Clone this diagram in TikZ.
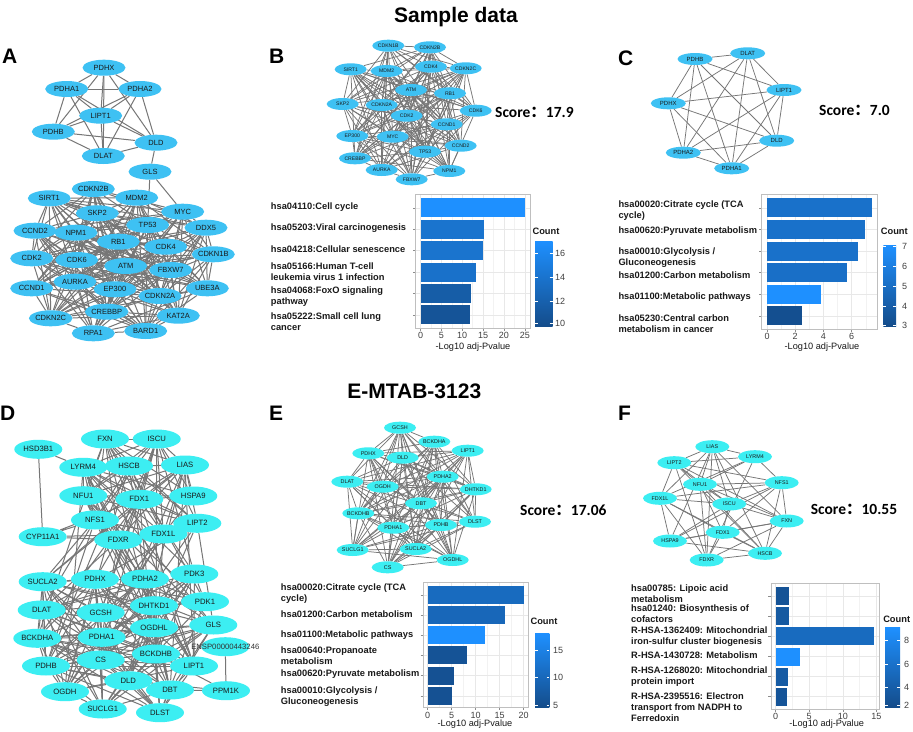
\documentclass[tikz,border=0pt]{standalone}
\usepackage{fontspec}
\setmainfont{Liberation Sans}
\newfontfamily\carl{Carlito}
\newfontfamily\cjk{Noto Sans CJK SC}
\usetikzlibrary{shapes.geometric}
\pgfdeclarelayer{back}
\pgfdeclarelayer{edges}
\pgfsetlayers{back,edges,main}
\definecolor{nodeA}{RGB}{62,193,243}
\definecolor{nodeD}{RGB}{60,238,242}
\definecolor{edgec}{RGB}{118,118,118}
\definecolor{cHi}{RGB}{30,144,255}
\definecolor{cLo}{RGB}{20,76,138}
\definecolor{txt}{RGB}{25,25,25}
% #1 style, #2 list macro, #3 percent, #4 salt
\newcommand\meshnet[4]{\foreach \p [count=\ci] in #2 {\foreach \q [count=\cj] in #2 {\ifnum\cj>\ci\relax\pgfmathtruncatemacro\rr{mod(\ci*37+\cj*61+\ci*\cj*17+#4,100)}\ifnum\rr<#3\relax\draw[#1] (\p) -- (\q);\fi\fi}}}
\newcommand\crossnet[5]{\foreach \p [count=\ci] in #2 {\foreach \q [count=\cj] in #3 {\pgfmathtruncatemacro\rr{mod(\ci*41+\cj*29+\ci*\cj*13+#5,100)}\ifnum\rr<#4\relax\draw[#1] (\p) -- (\q);\fi}}}
\newcommand\hbr[6]{\fill[cHi!#6!cLo] (#1,{#3-#4}) rectangle ({#1+#5*#2},{#3+#4});}
\tikzset{
 nbase/.style={ellipse,inner sep=0pt,text=txt},
 an/.style={nbase,fill=nodeA,minimum width=43,minimum height=16,font=\fontsize{7.5}{8}\selectfont},
 bn/.style={nbase,fill=nodeA,minimum width=32,minimum height=12,font=\fontsize{5.1}{6}\selectfont},
 cn/.style={nbase,fill=nodeA,minimum width=35,minimum height=12,font=\fontsize{6}{7}\selectfont},
 dn/.style={nbase,fill=nodeD,minimum width=48,minimum height=19,font=\fontsize{7.7}{8}\selectfont},
 en/.style={nbase,fill=nodeD,minimum width=32,minimum height=12,font=\fontsize{5.4}{6}\selectfont},
 fn/.style={nbase,fill=nodeD,minimum width=34,minimum height=13,font=\fontsize{5.4}{6}\selectfont},
 edgeL/.style={draw=edgec,line width=1pt},
 edgeS/.style={draw=edgec,line width=0.75pt},
 lab/.style={anchor=west,align=left,inner sep=0pt,font=\fontsize{9.3}{11}\selectfont\bfseries,text=txt},
 tickl/.style={inner sep=0pt,font=\fontsize{9}{10}\selectfont,text=black!75},
 axt/.style={inner sep=0pt,font=\fontsize{9.2}{10}\selectfont,text=txt},
 cnt/.style={inner sep=0pt,font=\fontsize{9.3}{10}\selectfont\bfseries,text=txt},
 pframe/.style={draw=black!25,line width=0.6pt},
 gmaj/.style={draw=black!9,line width=0.5pt},
 gmin/.style={draw=black!5,line width=0.3pt},
 tk/.style={draw=black!45,line width=0.5pt},
 letter/.style={anchor=base west,inner sep=0pt,font=\fontsize{21}{21}\selectfont\bfseries},
 ttl/.style={anchor=base,inner sep=0pt,font=\fontsize{21}{21}\selectfont\bfseries},
 scoretxt/.style={anchor=base west,inner sep=0pt,font=\carl\bfseries\fontsize{15.5}{18}\selectfont},
}
\begin{document}
\begin{tikzpicture}[x=1pt,y=-1pt]
\begin{pgfonlayer}{back}\fill[white] (0,0) rectangle (913,731);\end{pgfonlayer}
\useasboundingbox (0,0) rectangle (913,731);
% titles and letters
\node[ttl] (t1) at (456,22) {Sample data};
\node[ttl] (t2) at (414.3,398) {E-MTAB-3123};
\node[letter] (LA) at (2,63) {A};
\node[letter] (LB) at (269,63) {B};
\node[letter] (LC) at (618,65) {C};
\node[letter] (LD) at (0,420) {D};
\node[letter] (LE) at (269,420) {E};
\node[letter] (LF) at (618,420) {F};
% ---------- panel A nodes
\node[an] (aPDHX) at (104,67.7) {PDHX};
\node[an] (aPDHA1) at (66.7,89) {PDHA1};
\node[an] (aPDHA2) at (140,89) {PDHA2};
\node[an] (aLIPT1) at (100.7,115.7) {LIPT1};
\node[an] (aPDHB) at (53.3,131.7) {PDHB};
\node[an] (aDLD) at (156,142.7) {DLD};
\node[an] (aDLAT) at (103.3,156) {DLAT};
\node[an] (aGLS) at (150,171.7) {GLS};
\node[an] (aCDKN2B) at (93.3,189) {CDKN2B};
\node[an] (aSIRT1) at (49.3,198.3) {SIRT1};
\node[an] (aMDM2) at (136.7,197.7) {MDM2};
\node[an] (aSKP2) at (97.3,213.3) {SKP2};
\node[an] (aMYC) at (182.7,211.7) {MYC};
\node[an] (aCCND2) at (35,230.7) {CCND2};
\node[an] (aNPM1) at (76,232.7) {NPM1};
\node[an] (aTP53) at (147.7,225) {TP53};
\node[an] (aDDX5) at (206,227.7) {DDX5};
\node[an] (aRB1) at (118.3,241.7) {RB1};
\node[an] (aCDK4) at (165.7,246.7) {CDK4};
\node[an] (aCDKN1B) at (213.3,254.3) {CDKN1B};
\node[an] (aCDK2) at (31.7,258.3) {CDK2};
\node[an] (aCDK6) at (76.7,260) {CDK6};
\node[an] (aATM) at (125.7,266) {ATM};
\node[an] (aFBXW7) at (170.7,270) {FBXW7};
\node[an] (aCCND1) at (31.7,288.3) {CCND1};
\node[an] (aAURKA) at (75,281.7) {AURKA};
\node[an] (aEP300) at (115,289.3) {EP300};
\node[an] (aCDKN2A) at (160,296) {CDKN2A};
\node[an] (aUBE3A) at (207.3,288.3) {UBE3A};
\node[an] (aCREBBP) at (106.7,311.7) {CREBBP};
\node[an] (aKAT2A) at (178.3,315.7) {KAT2A};
\node[an] (aCDKN2C) at (50.7,318.3) {CDKN2C};
\node[an] (aRPA1) at (93.3,333.3) {RPA1};
\node[an] (aBARD1) at (145.7,331) {BARD1};
% ---------- panel B nodes
\node[bn] (bCDKN1B) at (388.3,45.7) {CDKN1B};
\node[bn] (bCDKN2B) at (430,47.3) {CDKN2B};
\node[bn] (bSIRT1) at (350.7,69.3) {SIRT1};
\node[bn] (bMDM2) at (386.7,71) {MDM2};
\node[bn] (bCDK4) at (431,66.7) {CDK4};
\node[bn] (bCDKN2C) at (465.7,68.3) {CDKN2C};
\node[bn] (bATM) at (411,90) {ATM};
\node[bn] (bRB1) at (450,93.3) {RB1};
\node[bn] (bSKP2) at (342.7,104) {SKP2};
\node[bn] (bCDKN2A) at (381.7,105) {CDKN2A};
\node[bn] (bCDK6) at (475.7,110.7) {CDK6};
\node[bn] (bCDK2) at (406.7,115.7) {CDK2};
\node[bn] (bCCND1) at (446.7,124.3) {CCND1};
\node[bn] (bEP300) at (352.3,136) {EP300};
\node[bn] (bMYC) at (392.7,136.7) {MYC};
\node[bn] (bCCND2) at (460.7,145.7) {CCND2};
\node[bn] (bTP53) at (425,151.7) {TP53};
\node[bn] (bCREBBP) at (355,158.3) {CREBBP};
\node[bn] (bAURKA) at (381.7,170) {AURKA};
\node[bn] (bNPM1) at (449.3,171) {NPM1};
\node[bn] (bFBXW7) at (411.7,179.3) {FBXW7};
\node[scoretxt] (sB) at (495,117) {Score{\cjk ：}17.9};
% ---------- panel C nodes
\node[cn] (cPDHB) at (695,59) {PDHB};
\node[cn] (cDLAT) at (747.7,53.3) {DLAT};
\node[cn] (cLIPT1) at (784,90) {LIPT1};
\node[cn] (cPDHX) at (668.3,103.3) {PDHX};
\node[cn] (cDLD) at (776.7,140.7) {DLD};
\node[cn] (cPDHA2) at (683.3,152.7) {PDHA2};
\node[cn] (cPDHA1) at (731.7,168.3) {PDHA1};
\node[scoretxt] (sC) at (819,115) {Score{\cjk ：}7.0};
% ---------- panel D nodes
\node[dn] (dFXN) at (105,439) {FXN};
\node[dn] (dISCU) at (156.7,439) {ISCU};
\node[dn] (dHSD3B1) at (38.3,449.3) {HSD3B1};
\node[dn] (dLYRM4) at (83.3,467.3) {LYRM4};
\node[dn] (dHSCB) at (129,466) {HSCB};
\node[dn] (dLIAS) at (185,465) {LIAS};
\node[dn] (dNFU1) at (83.3,495.7) {NFU1};
\node[dn] (dFDX1) at (139.3,499.3) {FDX1};
\node[dn] (dHSPA9) at (193.3,496) {HSPA9};
\node[dn] (dNFS1) at (95,520) {NFS1};
\node[dn] (dLIPT2) at (197.3,523.3) {LIPT2};
\node[dn] (dCYP11A1) at (42.7,536.7) {CYP11A1};
\node[dn] (dFDXR) at (118.3,540) {FDXR};
\node[dn] (dFDX1L) at (163.3,534) {FDX1L};
\node[dn] (dSUCLA2) at (42.7,581.7) {SUCLA2};
\node[dn] (dPDHX) at (95,579.3) {PDHX};
\node[dn] (dPDHA2) at (145,579) {PDHA2};
\node[dn] (dPDK3) at (194.3,574) {PDK3};
\node[dn] (dDLAT) at (41.7,610) {DLAT};
\node[dn] (dGCSH) at (100.7,612.7) {GCSH};
\node[dn] (dDHTKD1) at (154,605.7) {DHTKD1};
\node[dn] (dPDK1) at (205,601.7) {PDK1};
\node[dn] (dOGDHL) at (154,627.7) {OGDHL};
\node[dn] (dGLS) at (213.3,625) {GLS};
\node[dn] (dBCKDHA) at (37.3,638.3) {BCKDHA};
\node[dn] (dPDHA1) at (101.7,637.3) {PDHA1};
\node[dn] (dENSP) at (225.3,646.7) {\makebox[0pt]{\color{black!80}ENSP00000443246}};
\node[dn] (dBCKDHB) at (156,654) {BCKDHB};
\node[dn] (dPDHB) at (46,666) {PDHB};
\node[dn] (dCS) at (100.7,660) {CS};
\node[dn] (dLIPT1) at (194,666) {LIPT1};
\node[dn] (dDLD) at (128.3,680.7) {DLD};
\node[dn] (dDBT) at (170,690) {DBT};
\node[dn] (dPPM1K) at (226,690.7) {PPM1K};
\node[dn] (dOGDH) at (65,691.7) {OGDH};
\node[dn] (dSUCLG1) at (102.7,709) {SUCLG1};
\node[dn] (dDLST) at (160,712.7) {DLST};
% ---------- panel E nodes
\node[en] (eGCSH) at (400,427.7) {GCSH};
\node[en] (eBCKDHA) at (434.3,441.7) {BCKDHA};
\node[en] (ePDHX) at (368.3,453.3) {PDHX};
\node[en] (eLIPT1) at (467.7,450.7) {LIPT1};
\node[en] (eDLD) at (402.7,457.7) {DLD};
\node[en] (eDLAT) at (347.3,481.7) {DLAT};
\node[en] (ePDHA2) at (442.7,476.7) {PDHA2};
\node[en] (eOGDH) at (382.7,486.7) {OGDH};
\node[en] (eDHTKD1) at (475.7,489.3) {DHTKD1};
\node[en] (eDBT) at (421,503.3) {DBT};
\node[en] (eBCKDHB) at (358.3,513.3) {BCKDHB};
\node[en] (eDLST) at (475,521.7) {DLST};
\node[en] (ePDHA1) at (393.3,527.7) {PDHA1};
\node[en] (ePDHB) at (441,525) {PDHB};
\node[en] (eSUCLG1) at (352.7,550) {SUCLG1};
\node[en] (eSUCLA2) at (415.7,549) {SUCLA2};
\node[en] (eOGDHL) at (452.7,560) {OGDHL};
\node[en] (eCS) at (387.7,567.3) {CS};
\node[scoretxt] (sE) at (520,515) {Score{\cjk ：}17.06};
% ---------- panel F nodes
\node[fn] (fLIAS) at (712.3,446.7) {LIAS};
\node[fn] (fLYRM4) at (755,456.7) {LYRM4};
\node[fn] (fLIPT2) at (674.3,462.7) {LIPT2};
\node[fn] (fNFU1) at (700,484.3) {NFU1};
\node[fn] (fNFS1) at (781.7,482.7) {NFS1};
\node[fn] (fFDX1L) at (660,498.3) {FDX1L};
\node[fn] (fISCU) at (729.3,504) {ISCU};
\node[fn] (fFXN) at (786.7,521) {FXN};
\node[fn] (fFDX1) at (722.7,532.3) {FDX1};
\node[fn] (fHSPA9) at (670,541) {HSPA9};
\node[fn] (fHSCB) at (765,553.3) {HSCB};
\node[fn] (fFDXR) at (706.7,560) {FDXR};
\node[scoretxt] (sF) at (810.7,514) {Score{\cjk ：}10.55};
% ---------- edges
\begin{pgfonlayer}{edges}
\def\lAt{aPDHX,aPDHA1,aPDHA2,aLIPT1,aPDHB,aDLD,aDLAT}
\meshnet{edgeL}{\lAt}{101}{0}
\draw[edgeL] (aDLD) -- (aGLS) (aGLS) -- (aMYC) (aGLS) -- (aTP53);
\def\lAb{aCDKN2B,aSIRT1,aMDM2,aSKP2,aMYC,aCCND2,aNPM1,aTP53,aDDX5,aRB1,aCDK4,aCDKN1B,aCDK2,aCDK6,aATM,aFBXW7,aCCND1,aAURKA,aEP300,aCDKN2A,aUBE3A,aCREBBP,aKAT2A,aCDKN2C,aRPA1,aBARD1}
\meshnet{edgeL}{\lAb}{66}{3}
\def\lB{bCDKN1B,bCDKN2B,bSIRT1,bMDM2,bCDK4,bCDKN2C,bATM,bRB1,bSKP2,bCDKN2A,bCDK6,bCDK2,bCCND1,bEP300,bMYC,bCCND2,bTP53,bCREBBP,bAURKA,bNPM1,bFBXW7}
\meshnet{edgeS}{\lB}{82}{11}
\def\lC{cPDHB,cDLAT,cLIPT1,cPDHX,cDLD,cPDHA2,cPDHA1}
\meshnet{edgeS}{\lC}{101}{0}
\def\lDt{dFXN,dISCU,dLYRM4,dHSCB,dLIAS,dNFU1,dFDX1,dHSPA9,dNFS1,dLIPT2,dFDXR,dFDX1L}
\def\lDb{dSUCLA2,dPDHX,dPDHA2,dPDK3,dDLAT,dGCSH,dDHTKD1,dPDK1,dOGDHL,dGLS,dBCKDHA,dPDHA1,dBCKDHB,dPDHB,dCS,dLIPT1,dDLD,dDBT,dOGDH,dSUCLG1,dDLST}
\meshnet{edgeL}{\lDt}{80}{17}
\meshnet{edgeL}{\lDb}{66}{29}
\crossnet{edgeL}{\lDt}{\lDb}{22}{5}
\draw[edgeL] (dHSD3B1) -- (dLYRM4) (dHSD3B1) -- (dCYP11A1) (dCYP11A1) -- (dNFS1) (dCYP11A1) -- (dFDXR) (dCYP11A1) -- (dFDX1L) (dCYP11A1) -- (dFDX1) (dENSP) -- (dPPM1K) (dPPM1K) -- (dDBT) (dPPM1K) -- (dBCKDHB) (dPPM1K) -- (dDLD);
\def\lE{eGCSH,eBCKDHA,ePDHX,eLIPT1,eDLD,eDLAT,ePDHA2,eOGDH,eDHTKD1,eDBT,eBCKDHB,eDLST,ePDHA1,ePDHB,eSUCLG1,eSUCLA2,eOGDHL,eCS}
\meshnet{edgeS}{\lE}{85}{43}
\def\lF{fLIAS,fLYRM4,fLIPT2,fNFU1,fNFS1,fFDX1L,fISCU,fFXN,fFDX1,fHSPA9,fHSCB,fFDXR}
\meshnet{edgeS}{\lF}{75}{57}
\end{pgfonlayer}
% ========== chart B
\foreach \v in {2.5,7.5,...,22.5} \draw[gmin] ({420.5+\v*4.17},194.3) -- ({420.5+\v*4.17},328.3);
\foreach \v in {0,5,...,25} {\draw[gmaj] ({420.5+\v*4.17},194.3) -- ({420.5+\v*4.17},328.3);
 \draw[tk] ({420.5+\v*4.17},328.3) -- ({420.5+\v*4.17},331);
 \node[tickl] (xB\v) at ({420.5+\v*4.17},335.7) {\v};}
\foreach \k in {0,...,5} {\draw[gmaj] (415.7,{207.8+\k*21.4}) -- (530,{207.8+\k*21.4}); \draw[tk] (413,{207.8+\k*21.4}) -- (415.7,{207.8+\k*21.4});}
\hbr{420.5}{4.17}{207.8}{9.5}{25}{100}
\hbr{420.5}{4.17}{229.2}{9.5}{15.3}{58}
\hbr{420.5}{4.17}{250.6}{9.5}{15}{58}
\hbr{420.5}{4.17}{272}{9.5}{13.2}{55}
\hbr{420.5}{4.17}{293.4}{9.5}{12.2}{25}
\hbr{420.5}{4.17}{314.8}{9.5}{11.9}{12}
\draw[pframe] (415.7,194.3) rectangle (530,328.3);
\node[axt] (axB) at (473,347) {-Log10 adj-Pvalue};
\node[lab] (lB1) at (270.7,206.7) {hsa04110:Cell cycle};
\node[lab] (lB2) at (270.7,228.3) {hsa05203:Viral carcinogenesis};
\node[lab] (lB3) at (270.7,249.3) {hsa04218:Cellular senescence};
\node[lab] (lB4) at (270.7,272) {hsa05166:Human T-cell\\leukemia virus 1 infection};
\node[lab] (lB5) at (270.7,297) {hsa04068:FoxO signaling\\pathway};
\node[lab] (lB6) at (270.7,321.2) {hsa05222:Small cell lung\\cancer};
\node[cnt] (cntB) at (546,231.7) {Count};
\shade[top color=cHi,bottom color=cLo] (535,241) rectangle (552.7,326.7);
\foreach \t/\y in {16/253.3,14/277.7,12/301.7,10/323.3} {\draw[white,line width=0.6pt] (535,\y) -- (538,\y) (549.7,\y) -- (552.7,\y); \node[tickl,anchor=west] (kB\t) at (555,\y) {\t};}
% ========== chart C
\foreach \v in {1,3,5,7} \draw[gmin] ({767+\v*14.1},194) -- ({767+\v*14.1},329.3);
\foreach \v in {0,2,4,6} {\draw[gmaj] ({767+\v*14.1},194) -- ({767+\v*14.1},329.3);
 \draw[tk] ({767+\v*14.1},329.3) -- ({767+\v*14.1},332);
 \node[tickl] (xC\v) at ({767+\v*14.1},336) {\v};}
\foreach \k in {0,...,5} {\draw[gmaj] (761.7,{207.8+\k*21.6}) -- (877.7,{207.8+\k*21.6}); \draw[tk] (759,{207.8+\k*21.6}) -- (761.7,{207.8+\k*21.6});}
\hbr{767}{14.1}{207.8}{9.5}{7.47}{55}
\hbr{767}{14.1}{229.4}{9.5}{6.97}{55}
\hbr{767}{14.1}{251}{9.5}{6.48}{55}
\hbr{767}{14.1}{272.6}{9.5}{5.65}{52}
\hbr{767}{14.1}{294.2}{9.5}{3.8}{100}
\hbr{767}{14.1}{315.8}{9.5}{2.5}{5}
\draw[pframe] (761.7,194) rectangle (877.7,329.3);
\node[axt] (axC) at (822,347) {-Log10 adj-Pvalue};
\node[lab] (lC1) at (618.3,210.8) {hsa00020:Citrate cycle (TCA\\cycle)};
\node[lab] (lC2) at (618.3,230.7) {hsa00620:Pyruvate metabolism};
\node[lab] (lC3) at (618.3,257.2) {hsa00010:Glycolysis /\\Gluconeogenesis};
\node[lab] (lC4) at (618.3,275) {hsa01200:Carbon metabolism};
\node[lab] (lC5) at (618.3,296.7) {hsa01100:Metabolic pathways};
\node[lab] (lC6) at (618.3,323.8) {hsa05230:Central carbon\\metabolism in cancer};
\node[cnt] (cntC) at (894.3,231.7) {Count};
\shade[top color=cHi,bottom color=cLo] (883.3,245) rectangle (896,326.7);
\foreach \t/\y in {7/246,6/266,5/286,4/306,3/325.5} {\draw[white,line width=0.6pt] (883.3,\y) -- (886,\y) (893.3,\y) -- (896,\y); \node[tickl,anchor=west] (kC\t) at (902,\y) {\t};}
% ========== chart E
\foreach \v in {2.5,7.5,12.5,17.5} \draw[gmin] ({427.5+\v*4.8},582.3) -- ({427.5+\v*4.8},707.7);
\foreach \v in {0,5,...,20} {\draw[gmaj] ({427.5+\v*4.8},582.3) -- ({427.5+\v*4.8},707.7);
 \draw[tk] ({427.5+\v*4.8},707.7) -- ({427.5+\v*4.8},710.4);
 \node[tickl] (xE\v) at ({427.5+\v*4.8},715) {\v};}
\foreach \k in {0,...,5} {\draw[gmaj] (423.3,{594.8+\k*20.2}) -- (528.3,{594.8+\k*20.2}); \draw[tk] (420.6,{594.8+\k*20.2}) -- (423.3,{594.8+\k*20.2});}
\hbr{427.5}{4.8}{594.8}{9}{20.1}{45}
\hbr{427.5}{4.8}{615}{9}{16.1}{40}
\hbr{427.5}{4.8}{635.2}{9}{12.05}{100}
\hbr{427.5}{4.8}{655.4}{9}{8.3}{10}
\hbr{427.5}{4.8}{675.6}{9}{5.6}{8}
\hbr{427.5}{4.8}{695.8}{9}{5.1}{8}
\draw[pframe] (423.3,582.3) rectangle (528.3,707.7);
\node[axt] (axE) at (475,724.3) {-Log10 adj-Pvalue};
\node[lab] (lE1) at (280.7,594) {hsa00020:Citrate cycle (TCA\\cycle)};
\node[lab] (lE2) at (280.7,614) {hsa01200:Carbon metabolism};
\node[lab] (lE3) at (280.7,635) {hsa01100:Metabolic pathways};
\node[lab] (lE4) at (280.7,655.5) {hsa00640:Propanoate\\metabolism};
\node[lab] (lE5) at (280.7,674.3) {hsa00620:Pyruvate metabolism};
\node[lab] (lE6) at (280.7,696.2) {hsa00010:Glycolysis /\\Gluconeogenesis};
\node[cnt] (cntE) at (544,621) {Count};
\shade[top color=cHi,bottom color=cLo] (535,633.3) rectangle (549.3,707.7);
\foreach \t/\y in {15/650,10/677.5,5/705} {\draw[white,line width=0.6pt] (535,\y) -- (537.7,\y) (546.6,\y) -- (549.3,\y); \node[tickl,anchor=west] (kE\t) at (553,\y) {\t};}
% ========== chart F
\foreach \v in {2.5,7.5,12.5} \draw[gmin] ({775.5+\v*6.73},583.3) -- ({775.5+\v*6.73},709.3);
\foreach \v in {0,5,10,15} {\draw[gmaj] ({775.5+\v*6.73},583.3) -- ({775.5+\v*6.73},709.3);
 \draw[tk] ({775.5+\v*6.73},709.3) -- ({775.5+\v*6.73},712);
 \node[tickl] (xF\v) at ({775.5+\v*6.73},716) {\v};}
\foreach \k in {0,...,5} {\draw[gmaj] (771,{596.2+\k*20.1}) -- (879,{596.2+\k*20.1}); \draw[tk] (768.3,{596.2+\k*20.1}) -- (771,{596.2+\k*20.1});}
\hbr{775.5}{6.73}{596.2}{9}{2.0}{10}
\hbr{775.5}{6.73}{616.3}{9}{2.0}{20}
\hbr{775.5}{6.73}{636.4}{9}{14.6}{45}
\hbr{775.5}{6.73}{656.5}{9}{3.6}{100}
\hbr{775.5}{6.73}{676.6}{9}{1.93}{22}
\hbr{775.5}{6.73}{696.7}{9}{1.73}{12}
\draw[pframe] (771,583.3) rectangle (879,709.3);
\node[axt] (axF) at (826.7,724.3) {-Log10 adj-Pvalue};
\node[lab] (lF1) at (631,593.8) {hsa00785: Lipoic acid\\metabolism};
\node[lab] (lF2) at (631,613.7) {hsa01240: Biosynthesis of\\cofactors};
\node[lab] (lF3) at (631,636.2) {R-HSA-1362409: Mitochondrial\\iron-sulfur cluster biogenesis};
\node[lab] (lF4) at (631,655) {R-HSA-1430728: Metabolism};
\node[lab] (lF5) at (631,676.5) {R-HSA-1268020: Mitochondrial\\protein import};
\node[lab] (lF6) at (631,707) {R-HSA-2395516: Electron\\transport from NADPH to\\Ferredoxin};
\node[cnt] (cntF) at (896.7,619.3) {Count};
\shade[top color=cHi,bottom color=cLo] (885,627.7) rectangle (900,707.7);
\foreach \t/\y in {8/640,6/664,4/687.7,2/705.7} {\draw[white,line width=0.6pt] (885,\y) -- (888,\y) (897,\y) -- (900,\y); \node[tickl,anchor=west] (kF\t) at (904,\y) {\t};}
\end{tikzpicture}
\end{document}
